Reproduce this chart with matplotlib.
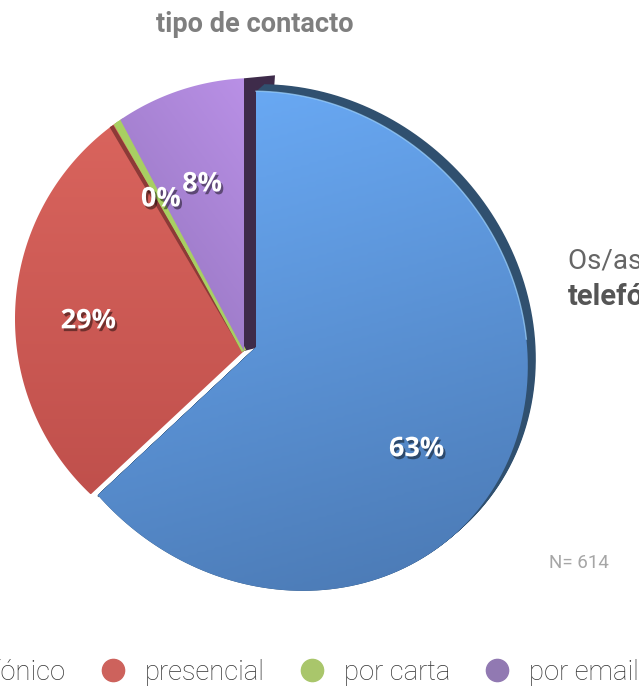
import numpy as np
import matplotlib
matplotlib.use("Agg")
import matplotlib.pyplot as plt
import matplotlib.patheffects as pe
from matplotlib.patches import Polygon
from matplotlib.lines import Line2D
from matplotlib.colors import LinearSegmentedColormap

# data: tipo de contacto, N = 614
categories = ["telefónico", "presencial", "por carta", "por email"]
counts = [387, 177, 2, 48]
legend_colors = ["#4f81bd", "#cd625c", "#a9c66b", "#9179b2"]

W, H = 639, 686
fig = plt.figure(figsize=(W / 100, H / 100), dpi=100)
ax = fig.add_axes([0, 0, 1, 1])
ax.set_xlim(0, W)
ax.set_ylim(H, 0)
ax.axis("off")

# pie geometry (pixels, y down); the blue slice is pulled out of the rest
# (apex, centre of outline, semi axes along SE / NE)
geo_blue = (np.array([256.0, 347.0]), np.array([278.0, 341.0]), 262.0, 237.0)
geo_rest = (np.array([244.0, 351.0]), np.array([256.0, 319.0]), 241.0, 241.0)

U = np.array([1.0, 1.0]) / np.sqrt(2)   # SE axis
V = np.array([1.0, -1.0]) / np.sqrt(2)  # NE axis


def ray_hit(geo, ang):
    apex, centre, a, b = geo
    d = np.array([np.cos(np.radians(ang)), -np.sin(np.radians(ang))])
    p = apex - centre
    q0 = np.array([p @ U / a, p @ V / b])
    q1 = np.array([d @ U / a, d @ V / b])
    A, B, C = q1 @ q1, 2 * q0 @ q1, q0 @ q0 - 1
    t = (-B + np.sqrt(B * B - 4 * A * C)) / (2 * A)
    return apex + t * d


def wedge_pts(geo, a0, a1):
    angs = np.linspace(a0, a1, 150)
    arc = np.array([ray_hit(geo, a) for a in angs])
    return np.vstack([geo[0], arc])


def grad_fill(pts, c_light, c_dark, wx, wy, z):
    poly = Polygon(pts, closed=True, facecolor="none", edgecolor="none", zorder=z)
    ax.add_patch(poly)
    x0, y0 = pts.min(0)
    x1, y1 = pts.max(0)
    yy, xx = np.mgrid[0:1:200j, 0:1:200j]
    g = xx * wx + yy * wy
    g = (g - g.min()) / (g.max() - g.min())
    cmap = LinearSegmentedColormap.from_list("g", [c_light, c_dark])
    im = ax.imshow(g, extent=(x0, x1, y1, y0), origin="upper", cmap=cmap,
                   aspect="auto", zorder=z, interpolation="bilinear")
    im.set_clip_path(poly)


fracs = np.array(counts) / sum(counts)
starts = 90 - 360 * np.concatenate([[0], np.cumsum(fracs)[:-1]])
ends = starts - 360 * fracs

# blue slice + its dark side
pts_b = wedge_pts(geo_blue, starts[0], ends[0])
for k in np.linspace(0, 1, 12):
    ax.add_patch(Polygon(pts_b + k * np.array([8, -7]), closed=True,
                         facecolor="#30506f", edgecolor="none", zorder=1.5))
grad_fill(pts_b, "#6bacf8", "#4a78b2", 0.25, 1.0, 3)
arc_b = pts_b[1:60]
ax.plot(arc_b[:, 0], arc_b[:, 1], color="#9fd4ff", lw=1.0, alpha=0.7, zorder=3.2)
corner_b = pts_b[-1]
nrm = np.array([np.sin(np.radians(ends[0])), np.cos(np.radians(ends[0]))])
ax.plot([geo_blue[0][0] - 1.2 * nrm[0], corner_b[0] - 1.2 * nrm[0]],
        [geo_blue[0][1] - 1.2 * nrm[1], corner_b[1] - 1.2 * nrm[1]],
        color="#27405e", lw=1.3, alpha=0.8, zorder=2.9)

# purple side face (visible between purple and blue)
apex_r = geo_rest[0]
top_p = ray_hit(geo_rest, 90.0)
ax.add_patch(Polygon([apex_r, top_p, top_p + [31, -3], apex_r + [12, -3]],
                     closed=True, facecolor="#3e2b4a", edgecolor="none", zorder=1))

# red
pts_r = wedge_pts(geo_rest, starts[1], ends[1])
grad_fill(pts_r, "#d9645d", "#c0504c", 0.0, 1.0, 2)
edge_r = ray_hit(geo_rest, ends[1] + 1.2)
ax.plot([apex_r[0], edge_r[0]], [apex_r[1], edge_r[1]], color="#8c3a37",
        lw=3, solid_capstyle="butt", zorder=2.1)

# green
pts_g = wedge_pts(geo_rest, starts[2] + 0.6, ends[2] - 0.6)
ax.add_patch(Polygon(pts_g, closed=True, facecolor="#a8cf62", edgecolor="none", zorder=2.2))
mid_g = ray_hit(geo_rest, (starts[2] + ends[2]) / 2)
ax.plot([apex_r[0], mid_g[0]], [apex_r[1], mid_g[1]], color="#a8cf62",
        lw=3.5, solid_capstyle="butt", zorder=2.2)

# purple
pts_p = wedge_pts(geo_rest, starts[3], ends[3])
grad_fill(pts_p, "#b990e6", "#9172bb", -0.5, 0.8, 2.3)

# percentage labels
label_shift = [-9, -2, 0, 0]
label_dist = [0.69, 0.68, 0.66, 0.64]
for i, f in enumerate(fracs):
    geo = geo_blue if i == 0 else geo_rest
    a = (starts[i] + ends[i]) / 2 + label_shift[i]
    hit = ray_hit(geo, a)
    pos = geo[0] + label_dist[i] * (hit - geo[0])
    ax.text(pos[0], pos[1], f"{f * 100:.0f}%", ha="center", va="center",
            fontsize=19.5, fontweight="bold", family="Open Sans", color="white", zorder=6,
            path_effects=[pe.withSimplePatchShadow(offset=(1.5, -2), shadow_rgbFace="black", alpha=0.45)])

# texts
fig.text(255 / W, 1 - 24 / H, "tipo de contacto", ha="center", va="center",
         fontsize=19.5, fontweight="bold", family="Roboto", color="#7f7f7f")
fig.text(568 / W, 1 - 268 / H, "Os/as utentes", ha="left", va="baseline",
         fontsize=20, family="Roboto", color="#666666")
fig.text(568 / W, 1 - 305 / H, "telefónico", ha="left", va="baseline",
         fontsize=21, fontweight="bold", family="Roboto", color="#555555")
fig.text(549 / W, 1 - 563 / H, "N= 614", ha="left", va="center",
         fontsize=13.5, family="Roboto", color="#a6a6a6")

handles = [Line2D([], [], marker="o", linestyle="", markersize=16, color=c) for c in legend_colors]
fig.legend(handles, categories, loc="center", bbox_to_anchor=(272 / W, 1 - 672 / H), ncol=4,
           frameon=False, handlelength=1.0, handletextpad=0.68, columnspacing=1.2,
           prop={"family": "Roboto", "weight": "light", "size": 19.75}, labelcolor="#333333")

fig.savefig("out.png", dpi=100)
